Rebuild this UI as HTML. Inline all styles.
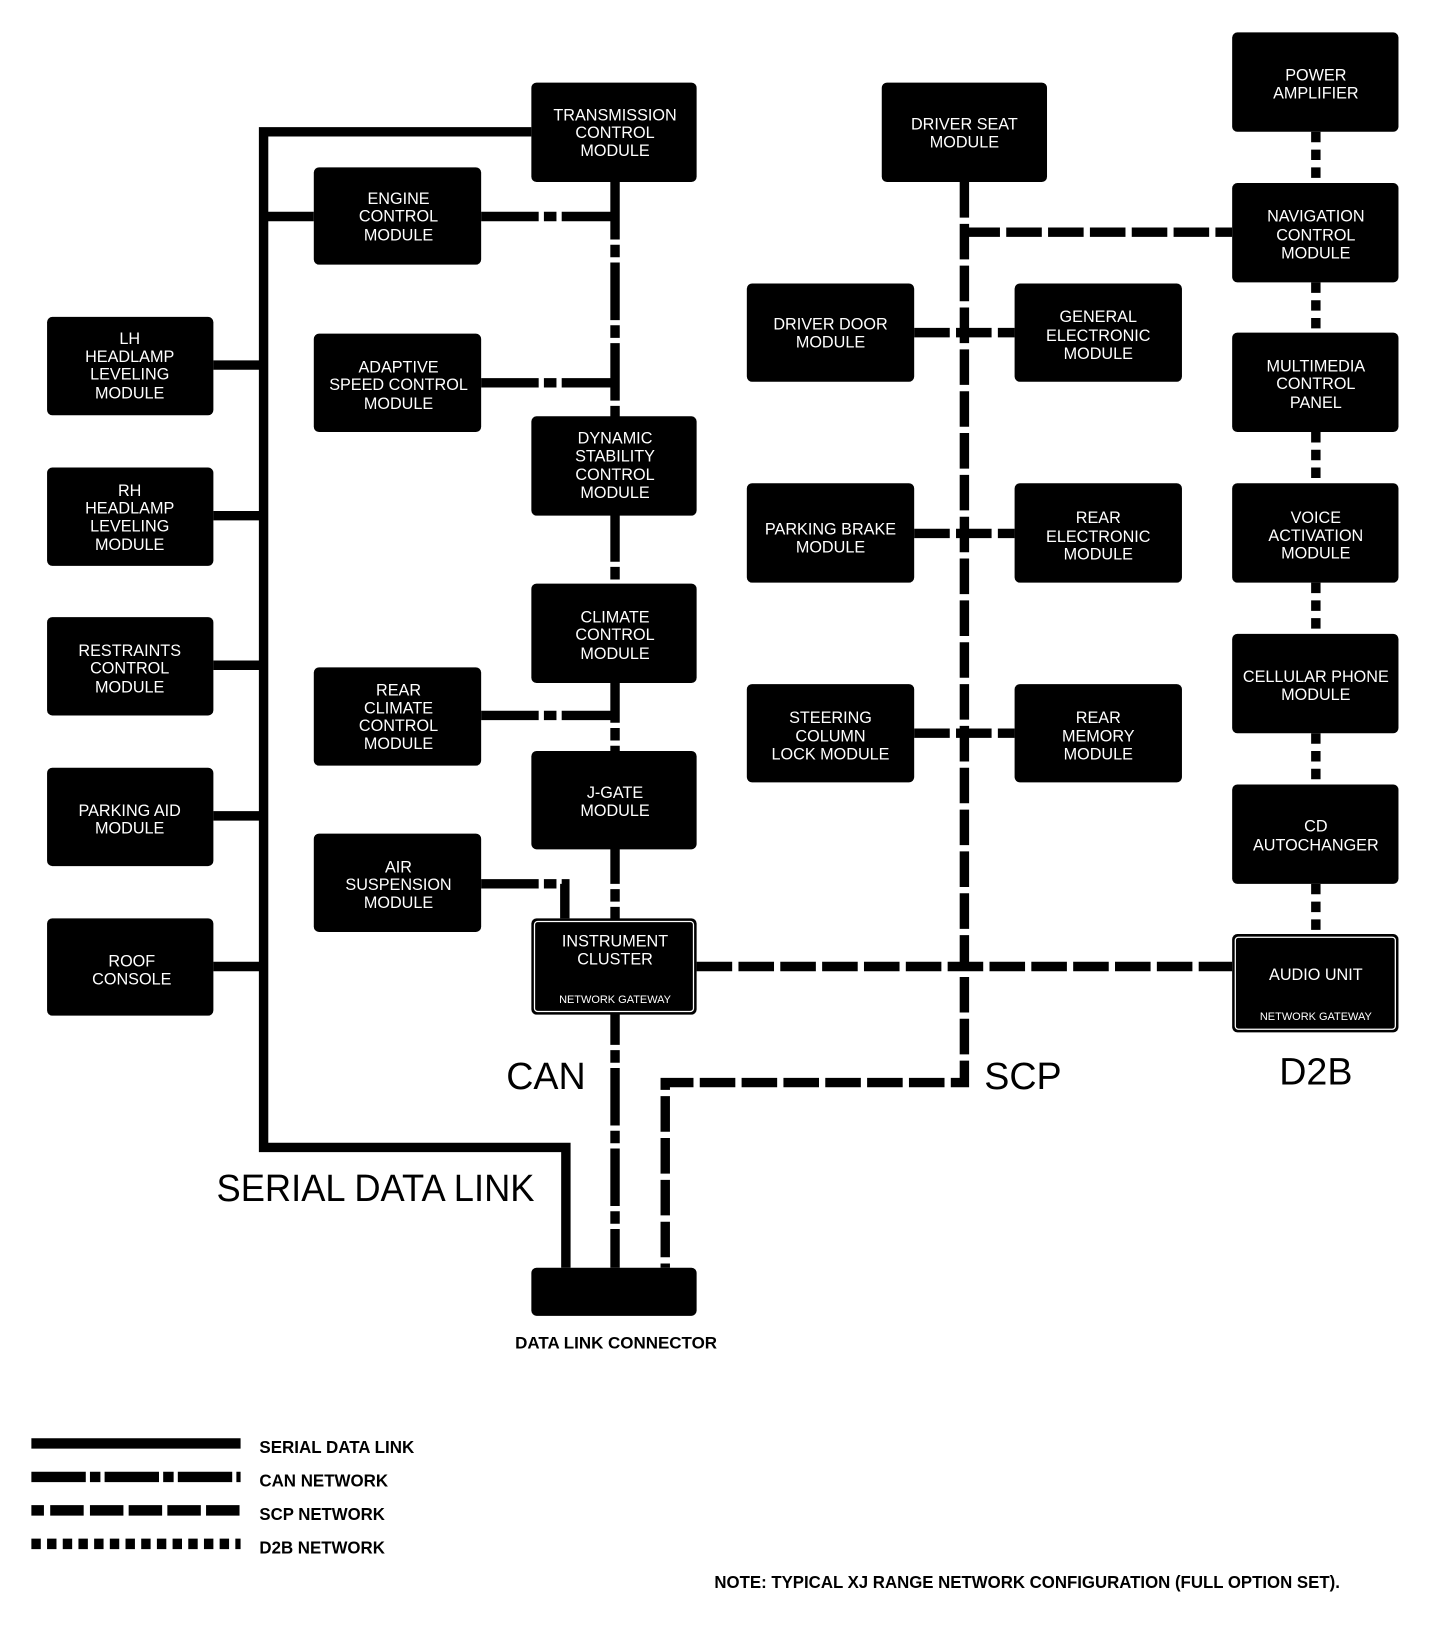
<!DOCTYPE html>
<html><head><meta charset="utf-8"><style>
html,body{margin:0;padding:0;background:#fff;}
svg{display:block;}
text{font-family:"Liberation Sans",Arial,sans-serif;}
.b text{fill:#fff;font-size:15.5px;text-anchor:middle;}
</style></head><body>
<svg width="1456" height="1638" viewBox="0 0 1392 1566" xmlns="http://www.w3.org/2000/svg">
<g fill="none" stroke="#000" stroke-width="9">
<polyline points="508,126 252,126 252,1097 541,1097 541,1212"/>
<line x1="252" y1="207" x2="300" y2="207"/>
<line x1="204" y1="349" x2="252" y2="349"/>
<line x1="204" y1="493" x2="252" y2="493"/>
<line x1="204" y1="636" x2="252" y2="636"/>
<line x1="204" y1="780" x2="252" y2="780"/>
<line x1="204" y1="924" x2="252" y2="924"/>
</g>
<g fill="none" stroke="#000" stroke-width="9" stroke-dasharray="55 5 12 5">
<line x1="588" y1="174" x2="588" y2="1212"/>
<line x1="460" y1="207" x2="588" y2="207"/>
<line x1="460" y1="366" x2="588" y2="366"/>
<line x1="460" y1="684" x2="588" y2="684"/>
<polyline points="460,845 540,845 540,878"/>
</g>
<g fill="none" stroke="#000" stroke-width="9" stroke-dasharray="34 6">
<polyline points="922,174 922,1035 636,1035 636,1212"/>
<line x1="922" y1="222" x2="1178" y2="222"/>
<line x1="874" y1="318" x2="970" y2="318"/>
<line x1="874" y1="510" x2="970" y2="510"/>
<line x1="874" y1="701" x2="970" y2="701"/>
<line x1="666" y1="924" x2="1178" y2="924"/>
</g>
<g fill="none" stroke="#000" stroke-width="9" stroke-dasharray="10 7">
<line x1="1258" y1="126" x2="1258" y2="175"/>
<line x1="1258" y1="270" x2="1258" y2="318"/>
<line x1="1258" y1="413" x2="1258" y2="462"/>
<line x1="1258" y1="557" x2="1258" y2="606"/>
<line x1="1258" y1="701" x2="1258" y2="750"/>
<line x1="1258" y1="845" x2="1258" y2="893"/>
</g>
<g class="b">
<rect x="45" y="303" width="159" height="94" rx="5"/>
<text x="124" y="329">LH</text><text x="124" y="346">HEADLAMP</text><text x="124" y="363">LEVELING</text><text x="124" y="381">MODULE</text>
<rect x="45" y="447" width="159" height="94" rx="5"/>
<text x="124" y="474">RH</text><text x="124" y="491">HEADLAMP</text><text x="124" y="508">LEVELING</text><text x="124" y="526">MODULE</text>
<rect x="45" y="590" width="159" height="94" rx="5"/>
<text x="124" y="627">RESTRAINTS</text><text x="124" y="644">CONTROL</text><text x="124" y="662">MODULE</text>
<rect x="45" y="734" width="159" height="94" rx="5"/>
<text x="124" y="780">PARKING AID</text><text x="124" y="797">MODULE</text>
<rect x="45" y="878" width="159" height="93" rx="5"/>
<text x="126" y="924">ROOF</text><text x="126" y="941">CONSOLE</text>
<rect x="300" y="160" width="160" height="93" rx="5"/>
<text x="381" y="195">ENGINE</text><text x="381" y="212">CONTROL</text><text x="381" y="230">MODULE</text>
<rect x="300" y="319" width="160" height="94" rx="5"/>
<text x="381" y="356">ADAPTIVE</text><text x="381" y="373">SPEED CONTROL</text><text x="381" y="391">MODULE</text>
<rect x="300" y="638" width="160" height="94" rx="5"/>
<text x="381" y="665">REAR</text><text x="381" y="682">CLIMATE</text><text x="381" y="699">CONTROL</text><text x="381" y="716">MODULE</text>
<rect x="300" y="797" width="160" height="94" rx="5"/>
<text x="381" y="834">AIR</text><text x="381" y="851">SUSPENSION</text><text x="381" y="868">MODULE</text>
<rect x="508" y="79" width="158" height="95" rx="5"/>
<text x="588" y="115">TRANSMISSION</text><text x="588" y="132">CONTROL</text><text x="588" y="149">MODULE</text>
<rect x="508" y="398" width="158" height="95" rx="5"/>
<text x="588" y="424">DYNAMIC</text><text x="588" y="441">STABILITY</text><text x="588" y="459">CONTROL</text><text x="588" y="476">MODULE</text>
<rect x="508" y="558" width="158" height="95" rx="5"/>
<text x="588" y="595">CLIMATE</text><text x="588" y="612">CONTROL</text><text x="588" y="630">MODULE</text>
<rect x="508" y="718" width="158" height="94" rx="5"/>
<text x="588" y="763">J-GATE</text><text x="588" y="780">MODULE</text>
<rect x="508" y="878" width="158" height="92" rx="5"/>
<rect x="511" y="881" width="152" height="86" rx="3" fill="none" stroke="#fff" stroke-width="1.2"/>
<text x="588" y="905">INSTRUMENT</text><text x="588" y="922">CLUSTER</text>
<text x="588" y="959" style="font-size:10.5px">NETWORK GATEWAY</text>
<rect x="508" y="1212" width="158" height="46" rx="5"/>
<rect x="843" y="79" width="158" height="95" rx="5"/>
<text x="922" y="124">DRIVER SEAT</text><text x="922" y="141">MODULE</text>
<rect x="714" y="271" width="160" height="94" rx="5"/>
<text x="794" y="315">DRIVER DOOR</text><text x="794" y="332">MODULE</text>
<rect x="970" y="271" width="160" height="94" rx="5"/>
<text x="1050" y="308">GENERAL</text><text x="1050" y="326">ELECTRONIC</text><text x="1050" y="343">MODULE</text>
<rect x="714" y="462" width="160" height="95" rx="5"/>
<text x="794" y="511">PARKING BRAKE</text><text x="794" y="528">MODULE</text>
<rect x="970" y="462" width="160" height="95" rx="5"/>
<text x="1050" y="500">REAR</text><text x="1050" y="518">ELECTRONIC</text><text x="1050" y="535">MODULE</text>
<rect x="714" y="654" width="160" height="94" rx="5"/>
<text x="794" y="691">STEERING</text><text x="794" y="709">COLUMN</text><text x="794" y="726">LOCK MODULE</text>
<rect x="970" y="654" width="160" height="94" rx="5"/>
<text x="1050" y="691">REAR</text><text x="1050" y="709">MEMORY</text><text x="1050" y="726">MODULE</text>
<rect x="1178" y="31" width="159" height="95" rx="5"/>
<text x="1258" y="77">POWER</text><text x="1258" y="94">AMPLIFIER</text>
<rect x="1178" y="175" width="159" height="95" rx="5"/>
<text x="1258" y="212">NAVIGATION</text><text x="1258" y="230">CONTROL</text><text x="1258" y="247">MODULE</text>
<rect x="1178" y="318" width="159" height="95" rx="5"/>
<text x="1258" y="355">MULTIMEDIA</text><text x="1258" y="372">CONTROL</text><text x="1258" y="390">PANEL</text>
<rect x="1178" y="462" width="159" height="95" rx="5"/>
<text x="1258" y="500">VOICE</text><text x="1258" y="517">ACTIVATION</text><text x="1258" y="534">MODULE</text>
<rect x="1178" y="606" width="159" height="95" rx="5"/>
<text x="1258" y="652">CELLULAR PHONE</text><text x="1258" y="669">MODULE</text>
<rect x="1178" y="750" width="159" height="95" rx="5"/>
<text x="1258" y="795">CD</text><text x="1258" y="813">AUTOCHANGER</text>
<rect x="1178" y="893" width="159" height="94" rx="5"/>
<rect x="1181" y="896" width="153" height="88" rx="3" fill="none" stroke="#fff" stroke-width="1.2"/>
<text x="1258" y="937">AUDIO UNIT</text>
<text x="1258" y="975" style="font-size:10.5px">NETWORK GATEWAY</text>
</g>
<g fill="#000">
<text x="522" y="1041" font-size="36" text-anchor="middle">CAN</text>
<text x="978" y="1041" font-size="36" text-anchor="middle">SCP</text>
<text x="1258" y="1037" font-size="36" text-anchor="middle">D2B</text>
<text x="359" y="1148" font-size="36" text-anchor="middle" textLength="304" lengthAdjust="spacingAndGlyphs">SERIAL DATA LINK</text>
<text x="589" y="1289" font-size="16" font-weight="bold" text-anchor="middle" textLength="193" lengthAdjust="spacingAndGlyphs">DATA LINK CONNECTOR</text>
<text x="248" y="1389" font-size="17" font-weight="bold" textLength="148" lengthAdjust="spacingAndGlyphs">SERIAL DATA LINK</text>
<text x="248" y="1421" font-size="17" font-weight="bold" textLength="123" lengthAdjust="spacingAndGlyphs">CAN NETWORK</text>
<text x="248" y="1453" font-size="17" font-weight="bold" textLength="120" lengthAdjust="spacingAndGlyphs">SCP NETWORK</text>
<text x="248" y="1485" font-size="17" font-weight="bold" textLength="120" lengthAdjust="spacingAndGlyphs">D2B NETWORK</text>
<text x="683" y="1518" font-size="17" font-weight="bold" textLength="598" lengthAdjust="spacingAndGlyphs">NOTE: TYPICAL XJ RANGE NETWORK CONFIGURATION (FULL OPTION SET).</text>
</g>
<g stroke="#000" stroke-width="10" fill="none">
<line x1="30" y1="1380" x2="230" y2="1380"/>
<line x1="30" y1="1412" x2="230" y2="1412" stroke-dasharray="52 4 10 4"/>
<line x1="30" y1="1444" x2="230" y2="1444" stroke-dasharray="12 6 32 6 32 5 32 5 32 5 32 5"/>
<line x1="30" y1="1476" x2="230" y2="1476" stroke-dasharray="9 6"/>
</g>
</svg>
</body></html>
